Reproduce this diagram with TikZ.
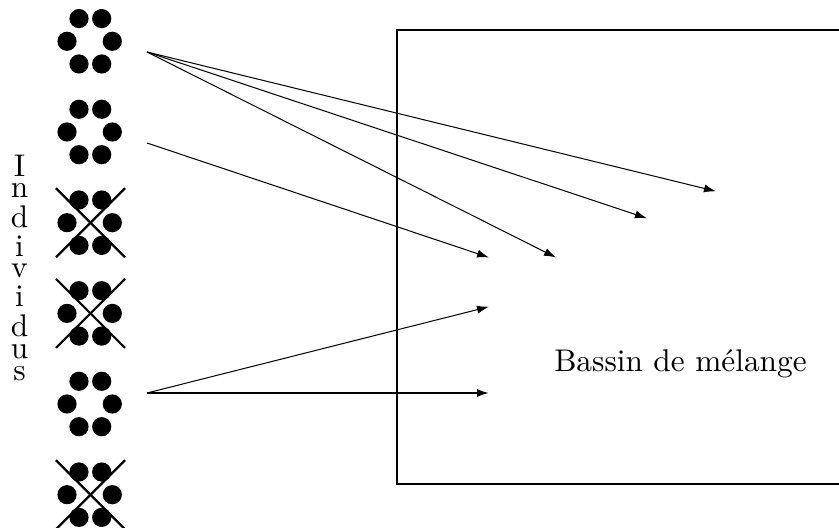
\documentclass[tikz,border=0pt]{standalone}
\usetikzlibrary{arrows.meta}
\tikzset{
  x=0.3333pt,y=-0.3333pt,
  dot/.style={circle,fill=black,draw=none,inner sep=0pt,minimum size=6.4pt},
  crossline/.style={line width=0.75pt},
  boxline/.style={line width=0.62pt},
  arrowline/.style={line width=0.34pt,-{Latex[length=4pt,width=2.7pt]}},
  anchorpt/.style={inner sep=0pt,minimum size=0pt},
}
\newcommand{\sixdots}[2]{%
  \node[dot] (#1a) at (79,#2-22.7) {};
  \node[dot] (#1b) at (101.7,#2-22.7) {};
  \node[dot] (#1c) at (67,#2) {};
  \node[dot] (#1d) at (112.3,#2) {};
  \node[dot] (#1e) at (79,#2+22.7) {};
  \node[dot] (#1f) at (101.7,#2+22.7) {};
}
\newcommand{\crossout}[2]{%
  \coordinate (#1p) at (56,#2-34.5);
  \coordinate (#1q) at (125,#2+34.5);
  \coordinate (#1r) at (125,#2-34.5);
  \coordinate (#1s) at (56,#2+34.5);
  \draw[crossline] (#1p) -- (#1q);
  \draw[crossline] (#1r) -- (#1s);
}
\begin{document}
\begin{tikzpicture}
\useasboundingbox (0,0) rectangle (839,528);
\begin{scope}
\clip (0,0) rectangle (839,528);
\sixdots{A}{41.3}
\sixdots{B}{132}
\sixdots{C}{222.7}
\sixdots{D}{313.4}
\sixdots{E}{404}
\sixdots{F}{494.7}
\crossout{C}{222.7}
\crossout{D}{313.4}
\crossout{F}{494.7}
\end{scope}
\node[anchor=base,inner sep=0pt,font=\fontsize{10.45}{12}\selectfont] (label) at (19.5,381) {\shortstack{I\\[-0.35pt]n\\[-0.35pt]d\\[-0.35pt]i\\[-0.35pt]v\\[-0.35pt]i\\[-0.35pt]d\\[-0.35pt]u\\[-0.35pt]s}};
\coordinate (boxtl) at (397,30);
\coordinate (boxbr) at (839,484);
\draw[boxline] (boxbr |- boxtl) -- (boxtl) -- (boxtl |- boxbr) -- (boxbr);
\node[anchor=base,inner sep=0pt,font=\fontsize{10.45}{12}\selectfont] (bassin) at (680.5,372) {Bassin de m\'elange};
\coordinate (s1) at (147,52);
\coordinate (s2) at (147,143);
\coordinate (s3) at (147,393);
\coordinate (t1) at (716,191.3);
\coordinate (t2) at (647,218.3);
\coordinate (t3) at (556,257.5);
\coordinate (t4) at (489,257.5);
\coordinate (t5) at (489,306.7);
\coordinate (t6) at (489,393);
\draw[arrowline] (s1) -- (t1);
\draw[arrowline] (s1) -- (t2);
\draw[arrowline] (s1) -- (t3);
\draw[arrowline] (s2) -- (t4);
\draw[arrowline] (s3) -- (t5);
\draw[arrowline,line width=0.62pt] (s3) -- (t6);
\end{tikzpicture}
\end{document}
